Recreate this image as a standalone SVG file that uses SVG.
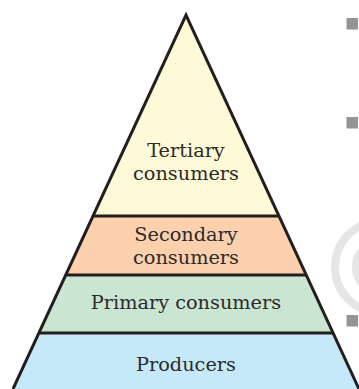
<svg xmlns="http://www.w3.org/2000/svg" width="359" height="389" viewBox="0 0 359 389">
<style>
.t{font-family:"DejaVu Serif","Liberation Serif",serif;font-size:19.3px;fill:#2b2b2b;text-anchor:middle}
.s{stroke:#231f20;stroke-width:3;fill:none;stroke-linejoin:miter}
.b{fill:#949499}
.w{fill:none;stroke:#e6e6e6}
</style>
<rect width="359" height="389" fill="#fff"/>
<g id="watermark">
<circle class="w" cx="381" cy="267" r="46" stroke-width="8"/>
<circle class="w" cx="381" cy="267" r="25" stroke-width="8"/>
</g>
<g id="bullets">
<rect class="b" x="346.5" y="18" width="11.5" height="11.5"/>
<rect class="b" x="346.5" y="117" width="11.5" height="11.5"/>
<rect class="b" x="346.5" y="315" width="11.5" height="11.5"/>
</g>
<g id="tertiary">
<polygon points="186,15 93,216 279,216" fill="#fef9d7"/>
<text class="t" x="186" y="157">Tertiary</text>
<text class="t" x="186" y="180">consumers</text>
</g>
<g id="secondary">
<polygon points="93,216 279,216 306,275 66,275" fill="#fdd0ae"/>
<text class="t" x="186" y="241">Secondary</text>
<text class="t" x="186" y="264">consumers</text>
</g>
<g id="primary">
<polygon points="66,275 306,275 333,333 39,333" fill="#cbe5d3"/>
<text class="t" x="186" y="309">Primary consumers</text>
</g>
<g id="producers">
<polygon points="39,333 333,333 359,389 13,389" fill="#c6e9fa"/>
<text class="t" x="186" y="371">Producers</text>
</g>
<g id="connectors">
<path class="s" d="M13,389 L186,15 L359,389"/>
<path class="s" d="M93,216H279M66,275H306M39,333H333"/>
</g>
</svg>
